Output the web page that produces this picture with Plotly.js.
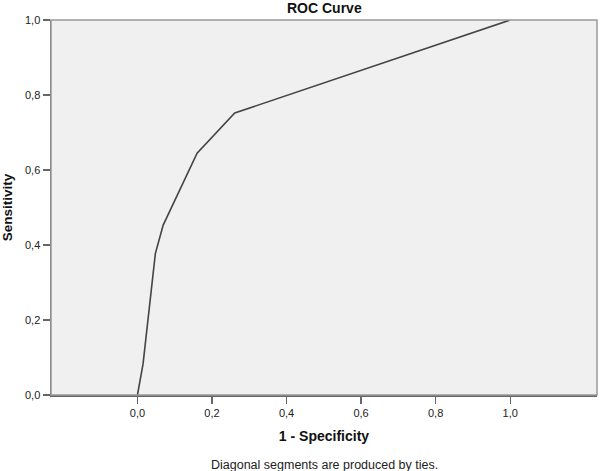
<!DOCTYPE html>
<html>
<head>
<meta charset="utf-8">
<script src="https://cdn.plot.ly/plotly-3.0.1.min.js"></script>
<style>html,body{margin:0;padding:0;background:#fff;}#chart{width:600px;height:471px;}</style>
</head>
<body>
<div id="chart"></div>
<script>
const fpr = [0.0, 0.015, 0.048, 0.069, 0.160, 0.261, 1.0];
const tpr = [0.0, 0.083, 0.377, 0.453, 0.645, 0.752, 1.0];
const tickVals = [0.0, 0.2, 0.4, 0.6, 0.8, 1.0];
const titleText = "ROC Curve";
const xTitle = "1 - Specificity";
const yTitle = "Sensitivity";
const footnote = "Diagonal segments are produced by ties.";

const font = "Liberation Sans, Arial, sans-serif";
const trace = {
  x: fpr, y: tpr, type: 'scatter', mode: 'lines',
  line: {color: '#444444', width: 1.6}, hoverinfo: 'skip', showlegend: false
};
const layout = {
  width: 600, height: 471,
  margin: {l: 51, r: 3, t: 20, b: 76},
  paper_bgcolor: '#ffffff', plot_bgcolor: '#f0f0f0',
  separators: ',.',
  font: {family: font, size: 11, color: '#222'},
  xaxis: {
    range: [-0.232, 1.233], tickvals: tickVals, tickformat: '.1f',
    showgrid: false, zeroline: false, showline: true, linecolor: '#666', linewidth: 1.5,
    ticks: 'outside', ticklen: 7, tickcolor: '#666', tickwidth: 1.2,
    tickfont: {size: 11, color: '#222'},
    title: {text: xTitle, font: {size: 14, family: font, color: '#111', weight: 'bold'}, standoff: 13},
    fixedrange: true
  },
  yaxis: {
    range: [0, 1], tickvals: tickVals, tickformat: '.1f',
    showgrid: false, zeroline: false, showline: true, linecolor: '#666', linewidth: 1.5,
    ticks: 'outside', ticklen: 7, tickcolor: '#666', tickwidth: 1.2,
    tickfont: {size: 11, color: '#222'},
    title: {text: yTitle, font: {size: 13.5, family: font, color: '#111', weight: 'bold'}, standoff: 9},
    fixedrange: true
  },
  shapes: [{
    type: 'rect', xref: 'paper', yref: 'paper', x0: 0, x1: 1, y0: 0, y1: 1,
    line: {color: '#999', width: 1.5}, fillcolor: 'rgba(0,0,0,0)', layer: 'above'
  }],
  annotations: [
    {text: '<b>' + titleText + '</b>', xref: 'paper', yref: 'paper', x: 0.5, y: 1, yshift: 2,
     xanchor: 'center', yanchor: 'bottom', showarrow: false, font: {size: 14, family: font, color: '#111'}},
    {text: footnote, xref: 'paper', yref: 'paper', x: 0.5, y: 0, yshift: -61,
     xanchor: 'center', yanchor: 'top', showarrow: false, font: {size: 12.5, family: font, color: '#222'}}
  ]
};
Plotly.newPlot('chart', [trace], layout, {displayModeBar: false, staticPlot: true});
</script>
</body>
</html>
